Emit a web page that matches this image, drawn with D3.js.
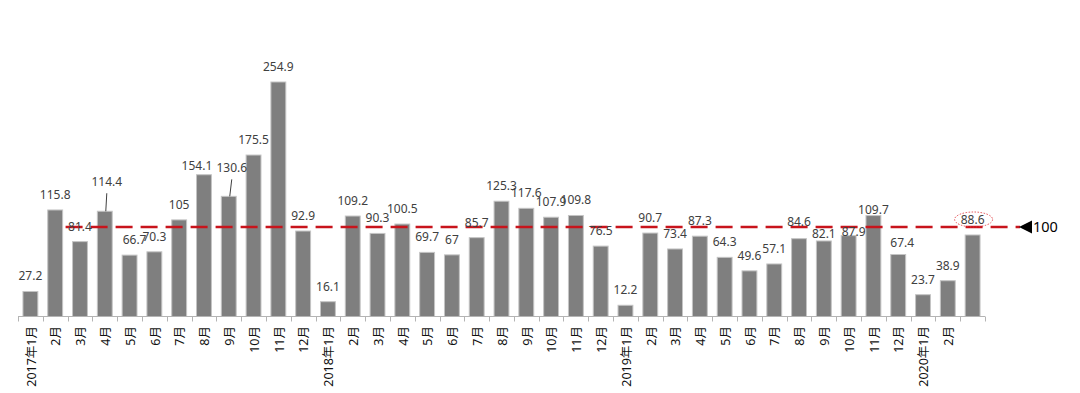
<!DOCTYPE html>
<html>
<head>
<meta charset="utf-8">
<script src="https://cdn.jsdelivr.net/npm/d3@7"></script>
<style>
  html, body { margin: 0; padding: 0; background: #fff; }
  svg { display: block; }
</style>
</head>
<body>
<svg id="chart" width="1080" height="393"></svg>
<script>
// month labels, 2017-01 .. 2020-03 (last one has no label in the original)
const monthLabels = [
  "2017年1月", "2月", "3月", "4月", "5月", "6月", "7月", "8月", "9月", "10月", "11月", "12月",
  "2018年1月", "2月", "3月", "4月", "5月", "6月", "7月", "8月", "9月", "10月", "11月", "12月",
  "2019年1月", "2月", "3月", "4月", "5月", "6月", "7月", "8月", "9月", "10月", "11月", "12月",
  "2020年1月", "2月", ""
];
const values = [
  27.2, 115.8, 81.4, 114.4, 66.7, 70.3, 105, 154.1, 130.6, 175.5, 254.9, 92.9,
  16.1, 109.2, 90.3, 100.5, 69.7, 67, 85.7, 125.3, 117.6, 107.9, 109.8, 76.5,
  12.2, 90.7, 73.4, 87.3, 64.3, 49.6, 57.1, 84.6, 82.1, 87.9, 109.7, 67.4,
  23.7, 38.9, 88.6
];
const refValue = 100;
const refLabel = "100";
const circledIndex = 38;

// hand placed label nudges [dx, dy, leader line]
const labelNudge = {
  3: [2, -14, true],
  4: [5, 0],
  7: [-7, 6],
  8: [3, -13, true],
  31: [0, -2],
  32: [0, 8],
  33: [5, 11],
  34: [0, 9],
  35: [4, 4]
};

const svg = d3.select("#chart");
const cats = d3.range(values.length);
const baseY = 316.5;

const x = d3.scaleBand()
  .domain(cats)
  .range([18, 985])
  .paddingInner(0.4)
  .paddingOuter(0.2);

const y = d3.scaleLinear()
  .domain([0, 260])
  .range([baseY, 77.3]);

// bars
svg.append("g")
  .selectAll("rect")
  .data(values)
  .join("rect")
  .attr("x", (d, i) => x(i))
  .attr("y", d => y(d))
  .attr("width", x.bandwidth())
  .attr("height", d => baseY - y(d))
  .attr("fill", "#7f7f7f")
  .attr("stroke", "#c4c4c4")
  .attr("stroke-width", 1);

// axis line + boundary ticks
const axis = svg.append("g").attr("stroke", "#b4b4b4").attr("stroke-width", 1);
axis.append("line")
  .attr("x1", x.range()[0]).attr("x2", x.range()[1])
  .attr("y1", baseY).attr("y2", baseY);
axis.selectAll("line.tick")
  .data(d3.range(values.length + 1))
  .join("line")
  .attr("class", "tick")
  .attr("x1", i => Math.round(x.range()[0] + i * x.step()) + 0.5)
  .attr("x2", i => Math.round(x.range()[0] + i * x.step()) + 0.5)
  .attr("y1", baseY)
  .attr("y2", baseY + 5);

// month labels, rotated
svg.append("g")
  .selectAll("text")
  .data(monthLabels)
  .join("text")
  .attr("transform", (d, i) => `translate(${x(i) + x.bandwidth() / 2},326) rotate(-90)`)
  .attr("text-anchor", "end")
  .attr("dy", "0.42em")
  .attr("font-family", "'Noto Sans', 'Noto Sans CJK SC', sans-serif")
  .attr("font-size", "12.5px")
  .attr("fill", "#111")
  .text(d => d);

// reference line at 100
const refY = y(refValue) + 2.5;
const refX0 = x.range()[0] + 2 * x.step() - 2;
const refX1 = 1020;
svg.append("line")
  .attr("x1", refX0).attr("x2", refX1)
  .attr("y1", refY).attr("y2", refY)
  .attr("stroke", "#c8141c")
  .attr("stroke-width", 2.6)
  .attr("stroke-dasharray", "17 8");

svg.append("path")
  .attr("d", `M${refX1 - 1},${refY} L${refX1 + 12},${refY - 6.5} L${refX1 + 12},${refY + 6.5} Z`)
  .attr("fill", "#000");

svg.append("text")
  .attr("x", refX1 + 13)
  .attr("y", refY)
  .attr("dy", "0.36em")
  .attr("font-family", "'Noto Sans', sans-serif")
  .attr("font-size", "14.5px")
  .attr("fill", "#000")
  .text(refLabel);

// value labels
const labels = svg.append("g")
  .attr("font-family", "'Noto Sans', sans-serif")
  .attr("font-size", "12px")
  .attr("fill", "#404040")
  .attr("text-anchor", "middle");

values.forEach((v, i) => {
  const n = labelNudge[i] || [0, 0];
  const cx = x(i) + x.bandwidth() / 2;
  const lx = cx + n[0];
  const ly = y(v) - 11 + n[1];
  labels.append("text")
    .attr("x", lx)
    .attr("y", ly)
    .text(v);
  if (n[2]) {
    svg.append("line")
      .attr("x1", lx).attr("y1", ly + 7)
      .attr("x2", cx + 1).attr("y2", y(v))
      .attr("stroke", "#404040")
      .attr("stroke-width", 1);
  }
  if (i === circledIndex) {
    svg.append("ellipse")
      .attr("cx", lx + 1)
      .attr("cy", ly - 4.5)
      .attr("rx", 19)
      .attr("ry", 7.5)
      .attr("fill", "none")
      .attr("stroke", "#e0393e")
      .attr("stroke-width", 0.9)
      .attr("stroke-dasharray", "1.5 1.5");
  }
});
</script>
</body>
</html>
